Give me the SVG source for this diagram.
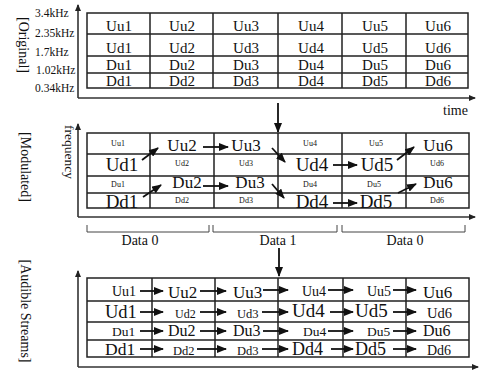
<svg xmlns="http://www.w3.org/2000/svg" width="480" height="370" viewBox="0 0 480 370">
<style>
text{font-family:"Liberation Serif","Times New Roman",serif;fill:#111}
.cell{fill:none;stroke:#222;stroke-width:1.5}
.ax{fill:none;stroke:#333;stroke-width:1.6}
.br{fill:none;stroke:#444;stroke-width:1}
.c{text-anchor:middle}
.t{font-size:15px}
.s{font-size:8px}
.side{font-size:14px;text-anchor:middle}
.hz{font-size:11.5px}
.arr{fill:none;stroke:#111;stroke-width:1.8}
</style>
<defs>
<marker id="ah" markerUnits="userSpaceOnUse" markerWidth="10" markerHeight="8" refX="9" refY="4" orient="auto"><path d="M0,0 L10,4 L0,8 z" fill="#111"/></marker>
<marker id="axh" markerUnits="userSpaceOnUse" markerWidth="7" markerHeight="6" refX="6" refY="3" orient="auto"><path d="M0,0 L7,3 L0,6 z" fill="#222"/></marker>
</defs>
<rect width="480" height="370" fill="#fff"/>

<!-- side labels -->
<text class="side" transform="translate(19,45) rotate(90)">[Original]</text>
<text class="side" transform="translate(21,167) rotate(90)">[Modulated]</text>
<text class="side" transform="translate(21,311) rotate(90)">[Audible Streams]</text>

<!-- axes -->
<g id="axes">
<path class="ax" d="M78,98 V5" marker-end="url(#axh)"/>
<path class="ax" d="M78,98 H475" marker-end="url(#axh)"/>
<path class="ax" d="M78,217 V124" marker-end="url(#axh)"/>
<path class="ax" d="M78,217 H475" marker-end="url(#axh)"/>
<path class="ax" d="M78,367 V271" marker-end="url(#axh)"/>
<path class="ax" d="M78,367 H478" marker-end="url(#axh)"/>
<text class="hz" x="35" y="17">3.4kHz</text>
<text class="hz" x="35" y="37">2.35kHz</text>
<text class="hz" x="35" y="56">1.7kHz</text>
<text class="hz" x="36" y="74">1.02kHz</text>
<text class="hz" x="35" y="92">0.34kHz</text>
<text x="443" y="115" style="font-size:14px">time</text>
<text x="0" y="0" style="font-size:13.5px;text-anchor:middle" transform="translate(65,152) rotate(90)">frequency</text>
</g>

<!-- Original grid -->
<g id="original">
<rect class="cell" x="87" y="13" width="381" height="75"/>
<path class="cell" d="M87,34H468M87,56H468M87,73H468M150,13V88M213,13V88M278,13V88M342,13V88M406,13V88"/>
<g class="t c">
<text x="119" y="31">Uu1</text><text x="182" y="31">Uu2</text><text x="246" y="31">Uu3</text><text x="311" y="31">Uu4</text><text x="375" y="31">Uu5</text><text x="438" y="31">Uu6</text>
<text x="119" y="53">Ud1</text><text x="182" y="53">Ud2</text><text x="246" y="53">Ud3</text><text x="311" y="53">Ud4</text><text x="375" y="53">Ud5</text><text x="438" y="53">Ud6</text>
<text x="119" y="70">Du1</text><text x="182" y="70">Du2</text><text x="246" y="70">Du3</text><text x="311" y="70">Du4</text><text x="375" y="70">Du5</text><text x="438" y="70">Du6</text>
<text x="119" y="86">Dd1</text><text x="182" y="86">Dd2</text><text x="246" y="86">Dd3</text><text x="311" y="86">Dd4</text><text x="375" y="86">Dd5</text><text x="438" y="86">Dd6</text>
</g>
</g>

<!-- Modulated grid -->
<g id="modulated">
<rect class="cell" x="87" y="133" width="382" height="75"/>
<path class="cell" d="M87,154H469M87,176H469M87,193H469M150,133V208M214,133V208M278,133V208M342,133V208M406,133V208"/>
<g class="c">
<text class="s" x="118" y="146">Uu1</text>
<text x="182" y="151" style="font-size:17px">Uu2</text>
<text x="246" y="151" style="font-size:17px">Uu3</text>
<text class="s" x="310" y="146">Uu4</text>
<text class="s" x="376" y="146">Uu5</text>
<text x="438" y="151" style="font-size:17px">Uu6</text>
<text x="122" y="171" style="font-size:19px">Ud1</text>
<text class="s" x="182" y="166">Ud2</text>
<text class="s" x="246" y="166">Ud3</text>
<text x="312" y="171" style="font-size:19px">Ud4</text>
<text x="377" y="171" style="font-size:19px">Ud5</text>
<text class="s" x="437" y="166">Ud6</text>
<text class="s" x="118" y="187">Du1</text>
<text x="187" y="188" style="font-size:17px">Du2</text>
<text x="250" y="188" style="font-size:17px">Du3</text>
<text class="s" x="310" y="187">Du4</text>
<text class="s" x="374" y="187">Du5</text>
<text x="438" y="188" style="font-size:17px">Du6</text>
<text x="122" y="208" style="font-size:19px">Dd1</text>
<text class="s" x="182" y="203">Dd2</text>
<text class="s" x="246" y="203">Dd3</text>
<text x="312" y="208" style="font-size:19px">Dd4</text>
<text x="376" y="208" style="font-size:19px">Dd5</text>
<text class="s" x="437" y="203">Dd6</text>
</g>
</g>

<!-- data brackets -->
<g id="data">
<path class="br" d="M87,225V232H209V225M213,225V232H337V225M342,225V232H465V225"/>
<g style="font-size:14px;text-anchor:middle">
<text x="140" y="245">Data 0</text>
<text x="278" y="245">Data 1</text>
<text x="405" y="245">Data 0</text>
</g>
</g>

<!-- Audible grid -->
<g id="audible">
<rect class="cell" x="87" y="278" width="382" height="79"/>
<path class="cell" d="M87,301H469M87,322H469M87,340H469M152,278V357M215,278V357M278,278V357M343,278V357M406,278V357"/>
<text x="112" y="296" style="font-size:14px">Uu1</text>
<text x="168" y="298" style="font-size:17px">Uu2</text>
<text x="233" y="298" style="font-size:17px">Uu3</text>
<text x="302" y="296" style="font-size:14px">Uu4</text>
<text x="367" y="296" style="font-size:14px">Uu5</text>
<text x="423" y="298" style="font-size:17px">Uu6</text>
<text x="105" y="318" style="font-size:18.5px">Ud1</text>
<text x="175" y="318" style="font-size:12px">Ud2</text>
<text x="237" y="318" style="font-size:12.5px">Ud3</text>
<text x="292" y="317" style="font-size:19px">Ud4</text>
<text x="355" y="317" style="font-size:19px">Ud5</text>
<text x="427" y="318" style="font-size:14.5px">Ud6</text>
<text x="112" y="336" style="font-size:13.5px">Du1</text>
<text x="168" y="336" style="font-size:16px">Du2</text>
<text x="233" y="336" style="font-size:16px">Du3</text>
<text x="303" y="336" style="font-size:13.5px">Du4</text>
<text x="367" y="336" style="font-size:13.5px">Du5</text>
<text x="423" y="336" style="font-size:16px">Du6</text>
<text x="105" y="355" style="font-size:17.5px">Dd1</text>
<text x="173" y="355" style="font-size:12.5px">Dd2</text>
<text x="237" y="355" style="font-size:12.5px">Dd3</text>
<text x="292" y="355" style="font-size:18px">Dd4</text>
<text x="355" y="355" style="font-size:18px">Dd5</text>
<text x="427" y="355" style="font-size:14px">Dd6</text>
</g>

<!-- connectors -->
<g id="connectors">
<path class="arr" d="M278,103V132" marker-end="url(#ah)"/>
<path class="arr" d="M279,248V276" marker-end="url(#ah)"/>
<path class="arr" d="M142,160L158,148" marker-end="url(#ah)"/>
<path class="arr" d="M203,147H228" marker-end="url(#ah)"/>
<path class="arr" d="M272,148L285,162" marker-end="url(#ah)"/>
<path class="arr" d="M333,165H357" marker-end="url(#ah)"/>
<path class="arr" d="M397,160L414,147" marker-end="url(#ah)"/>
<path class="arr" d="M143,197L161,185" marker-end="url(#ah)"/>
<path class="arr" d="M203,186H228" marker-end="url(#ah)"/>
<path class="arr" d="M272,184L284,198" marker-end="url(#ah)"/>
<path class="arr" d="M333,203H357" marker-end="url(#ah)"/>
<path class="arr" d="M398,193L416,184" marker-end="url(#ah)"/>
<path class="arr" d="M140,291H163" marker-end="url(#ah)"/>
<path class="arr" d="M200,291H226" marker-end="url(#ah)"/>
<path class="arr" d="M263,290H288" marker-end="url(#ah)"/>
<path class="arr" d="M328,290H353" marker-end="url(#ah)"/>
<path class="arr" d="M393,290H416" marker-end="url(#ah)"/>
<path class="arr" d="M140,312H163" marker-end="url(#ah)"/>
<path class="arr" d="M200,312H226" marker-end="url(#ah)"/>
<path class="arr" d="M262,312H288" marker-end="url(#ah)"/>
<path class="arr" d="M330,312H353" marker-end="url(#ah)"/>
<path class="arr" d="M393,312H416" marker-end="url(#ah)"/>
<path class="arr" d="M140,331H163" marker-end="url(#ah)"/>
<path class="arr" d="M200,331H226" marker-end="url(#ah)"/>
<path class="arr" d="M263,331H288" marker-end="url(#ah)"/>
<path class="arr" d="M328,331H353" marker-end="url(#ah)"/>
<path class="arr" d="M393,331H416" marker-end="url(#ah)"/>
<path class="arr" d="M140,349H163" marker-end="url(#ah)"/>
<path class="arr" d="M197,349H226" marker-end="url(#ah)"/>
<path class="arr" d="M262,349H288" marker-end="url(#ah)"/>
<path class="arr" d="M331,349H353" marker-end="url(#ah)"/>
<path class="arr" d="M393,349H416" marker-end="url(#ah)"/>
</g>
</svg>
